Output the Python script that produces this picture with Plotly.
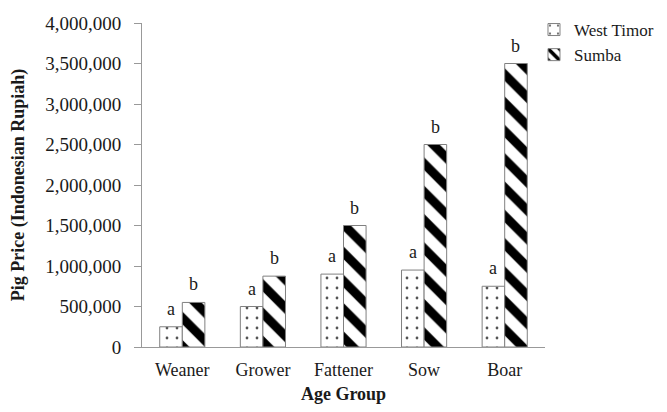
import plotly.graph_objects as go

categories = ["Weaner", "Grower", "Fattener", "Sow", "Boar"]
west_timor = [250000, 500000, 900000, 950000, 750000]
sumba = [550000, 875000, 1500000, 2500000, 3500000]
west_labels = ["a", "a", "a", "a", "a"]
sumba_labels = ["b", "b", "b", "b", "b"]
y_ticks = [0, 500000, 1000000, 1500000, 2000000, 2500000, 3000000, 3500000, 4000000]

font = "Liberation Serif, Times New Roman, serif"
txt = "#1a1a1a"
fs = 18

fig = go.Figure()
fig.add_trace(go.Bar(
    name="West Timor", x=categories, y=west_timor,
    marker=dict(color="white", line=dict(color="#808080", width=1),
                pattern=dict(shape=".", fgcolor="#555555", bgcolor="white",
                             size=10, solidity=0.06, fillmode="replace")),
))
fig.add_trace(go.Bar(
    name="Sumba", x=categories, y=sumba,
    marker=dict(color="white", line=dict(color="#808080", width=1),
                pattern=dict(shape="\\", fgcolor="black", bgcolor="white",
                             size=20, solidity=0.45, fillmode="replace")),
))

bargap = 0.44
shift = (1 - bargap) / 4 * 80.6
annotations = []
for cat, v, lab in zip(categories, west_timor, west_labels):
    annotations.append(dict(x=cat, y=v, text=lab, xref="x", yref="y",
                            showarrow=False, yanchor="bottom", xshift=-shift, yshift=6,
                            font=dict(family=font, size=fs, color=txt)))
for cat, v, lab in zip(categories, sumba, sumba_labels):
    annotations.append(dict(x=cat, y=v, text=lab, xref="x", yref="y",
                            showarrow=False, yanchor="bottom", xshift=shift, yshift=6,
                            font=dict(family=font, size=fs, color=txt)))

fig.update_layout(
    width=651, height=396,
    margin=dict(l=134, r=114, t=15, b=57, autoexpand=False),
    paper_bgcolor="white", plot_bgcolor="white",
    barmode="group", bargap=bargap, bargroupgap=0,
    font=dict(family=font, size=fs, color=txt),
    showlegend=True,
    legend=dict(x=0.9727, y=1.034, xanchor="left", yanchor="top",
                font=dict(family=font, size=17, color=txt),
                itemwidth=30, bgcolor="rgba(0,0,0,0)"),
    annotations=annotations,
)
fig.update_yaxes(
    range=[0, 4000000], tickvals=y_ticks, tickformat=",",
    showgrid=False, zeroline=False, automargin=False,
    showline=True, linecolor="#999999", linewidth=1,
    ticks="outside", tickcolor="#999999", ticklen=7, ticklabelstandoff=9,
    tickfont=dict(family=font, size=19, color=txt),
    title=dict(text="<b>Pig Price (Indonesian Rupiah)</b>", standoff=19,
               font=dict(family=font, size=fs, color=txt)),
)
fig.update_xaxes(
    showgrid=False, showline=True, linecolor="#999999", linewidth=1,
    automargin=False, ticks="", ticklabelstandoff=6,
    tickfont=dict(family=font, size=fs, color=txt),
    title=dict(text="<b>Age Group</b>", standoff=20,
               font=dict(family=font, size=fs, color=txt)),
)

fig.write_html("out.html")
